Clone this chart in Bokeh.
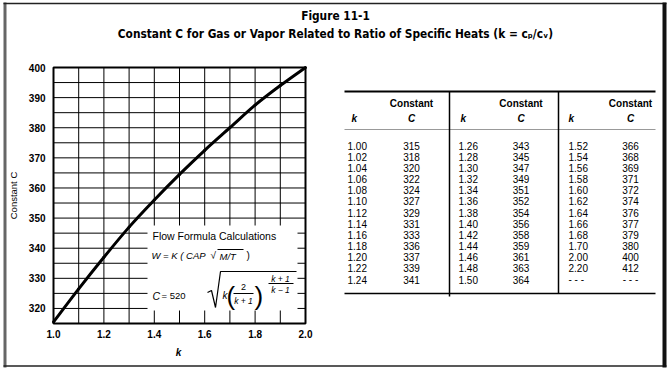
import math
from bokeh.plotting import figure
from bokeh.models import Range1d
from bokeh.core.properties import value
from bokeh.embed import file_html
from bokeh.resources import INLINE

# ---------------- data ----------------
title_line1 = "Figure 11-1"
title_line2 = "Constant C for Gas or Vapor Related to Ratio of Specific Heats (k = c\u209a/c\u1d65)"

k_col1 = ["1.00", "1.02", "1.04", "1.06", "1.08", "1.10", "1.12", "1.14", "1.16", "1.18", "1.20", "1.22", "1.24"]
c_col1 = ["315", "318", "320", "322", "324", "327", "329", "331", "333", "336", "337", "339", "341"]
k_col2 = ["1.26", "1.28", "1.30", "1.32", "1.34", "1.36", "1.38", "1.40", "1.42", "1.44", "1.46", "1.48", "1.50"]
c_col2 = ["343", "345", "347", "349", "351", "352", "354", "356", "358", "359", "361", "363", "364"]
k_col3 = ["1.52", "1.54", "1.56", "1.58", "1.60", "1.62", "1.64", "1.66", "1.68", "1.70", "2.00", "2.20", "- - -"]
c_col3 = ["366", "368", "369", "371", "372", "374", "376", "377", "379", "380", "400", "412", "- - -"]

# curve
curve_k = [1.0, 1.1, 1.2, 1.3, 1.4, 1.5, 1.6, 1.7, 1.8, 1.9, 2.0]
curve_c = [315.5, 326.5, 337, 347, 356, 364.5, 372.5, 380, 387.5, 394, 400]

x_tick_vals = [1.0, 1.2, 1.4, 1.6, 1.8, 2.0]
x_tick_labels = ["1.0", "1.2", "1.4", "1.6", "1.8", "2.0"]
y_tick_vals = [320, 330, 340, 350, 360, 370, 380, 390, 400]
y_tick_labels = ["320", "330", "340", "350", "360", "370", "380", "390", "400"]
x_grid_vals = [1.0, 1.1, 1.2, 1.3, 1.4, 1.5, 1.6, 1.7, 1.8, 1.9, 2.0]
y_grid_vals = [315, 320, 325, 330, 335, 340, 345, 350, 355, 360, 365, 370, 375, 380, 385, 390, 395, 400]
K_MIN, K_MAX, C_MIN, C_MAX = 1.0, 2.0, 315, 400

FONT = "Liberation Sans"
TFONT = "DejaVu Sans Condensed"

# ---------------- geometry (page pixels) ----------------
W, H = 670, 369
CFL, CFR, CFT, CFB = 53, 305, 67, 323     # chart frame on the page


def kx(px):
    return K_MIN + (px - CFL) * (K_MAX - K_MIN) / (CFR - CFL)


def cy(py):
    return C_MIN + (CFB - py) * (C_MAX - C_MIN) / (CFB - CFT)


p = figure(width=W, height=H, output_backend="svg", toolbar_location=None,
           x_range=Range1d(0, W), y_range=Range1d(H, 0), min_border=0)
p.title_location = None
p.xaxis.visible = False
p.yaxis.visible = False
p.xgrid.visible = False
p.ygrid.visible = False
p.outline_line_color = None
p.background_fill_color = "white"
p.border_fill_color = "white"
p.extra_x_ranges = {"k": Range1d(kx(0), kx(W))}
p.extra_y_ranges = {"C": Range1d(cy(H), cy(0))}
KC = dict(x_range_name="k", y_range_name="C")


def txt(xs, ys, texts, size="10px", style="normal", align="left", font=FONT, angle=0, **kw):
    p.text(x=xs, y=ys, text=texts, text_font=value(font), text_font_size=value(size),
           text_font_style=style, text_align=align, text_baseline="middle",
           text_color="black", angle=angle, **kw)


# ---------------- chart ----------------
nx, ny = len(x_grid_vals), len(y_grid_vals)
p.segment(x0=x_grid_vals, y0=[C_MIN] * nx, x1=x_grid_vals, y1=[C_MAX] * nx,
          line_color="black", line_width=1, **KC)
p.segment(x0=[K_MIN] * ny, y0=y_grid_vals, x1=[K_MAX] * ny, y1=y_grid_vals,
          line_color="black", line_width=1, **KC)
# white panel behind the formula
p.quad(left=[147], right=[297], top=[225], bottom=[310], fill_color="white", line_color=None)
# frame
p.quad(left=[K_MIN], right=[K_MAX], bottom=[C_MIN], top=[C_MAX], fill_color=None,
       line_color="black", line_width=2, **KC)

# smooth curve through the read points (Catmull-Rom segments drawn as Bezier curves)
n = len(curve_k)
bx0, by0, bx1, by1, bc0x, bc0y, bc1x, bc1y = [], [], [], [], [], [], [], []
for i in range(n - 1):
    a = max(i - 1, 0)
    d = min(i + 2, n - 1)
    bx0.append(curve_k[i]); by0.append(curve_c[i])
    bx1.append(curve_k[i + 1]); by1.append(curve_c[i + 1])
    bc0x.append(curve_k[i] + (curve_k[i + 1] - curve_k[a]) / 6)
    bc0y.append(curve_c[i] + (curve_c[i + 1] - curve_c[a]) / 6)
    bc1x.append(curve_k[i + 1] - (curve_k[d] - curve_k[i]) / 6)
    bc1y.append(curve_c[i + 1] - (curve_c[d] - curve_c[i]) / 6)
p.bezier(x0=bx0, y0=by0, x1=bx1, y1=by1, cx0=bc0x, cy0=bc0y, cx1=bc1x, cy1=bc1y,
         line_color="black", line_width=3, line_cap="round", **KC)

# tick labels and axis titles
txt(x_tick_vals, [333] * len(x_tick_vals), x_tick_labels, size="10px", style="bold",
    align="center", x_range_name="k")
txt([45] * len(y_tick_vals), y_tick_vals, y_tick_labels, size="10px", style="bold",
    align="right", y_range_name="C")
txt([178], [352], ["k"], size="10px", style="bold italic", align="center")
txt([13], [195], ["Constant C"], size="9.5px", align="center", angle=math.pi / 2)

# formula
txt([152], [235], ["Flow Formula Calculations"], size="10.5px")
txt([151], [255], ["W = K ( CAP"], size="9.5px", style="italic")
txt([210], [255], ["\u221a"], size="10px")
txt([219], [256], ["M/T"], size="9.5px", style="italic")
txt([246], [255], [")"], size="10px")
txt([152], [295], ["C"], size="10.5px", style="italic")
txt([161], [295], ["= 520"], size="9.5px")
txt([222], [295], ["k"], size="10px", style="italic")
txt([226, 254], [295, 295], ["(", ")"], size="26px")
txt([243], [286], ["2"], size="9px", align="center")
txt([243], [300], ["k + 1"], size="8.5px", style="italic", align="center")
txt([280, 280], [278, 289], ["k + 1", "k \u2212 1"], size="8.5px", style="italic", align="center")
p.segment(x0=[217, 233, 268], y0=[249, 293, 283], x1=[243, 253, 293], y1=[249, 293, 283],
          line_color="black", line_width=1)
p.line(x=[207, 211, 215, 220, 296], y=[292, 290, 307, 271, 271], line_color="black",
       line_width=1.2)

# ---------------- title ----------------
txt([335, 335], [15, 33], [title_line1, title_line2], size="11.8px", style="bold",
    align="center", font=TFONT)

# ---------------- outer border ----------------
p.segment(x0=[4.5, 3, 3, 664], y0=[2, 3, 365.5, 2], x1=[4.5, 666, 666, 664], y1=[367, 3, 365.5, 367],
          line_color=["#666666", "#222222", "#222222", "#111111"], line_width=[3, 1.5, 1.5, 4])

# ---------------- table ----------------
k_left = [347, 458, 568]
c_center = [411, 520.5, 630]
k_hdr = [351, 460, 568]
row0, row_step = 145, 11.17

p.segment(x0=[344, 344, 344, 449, 558], y0=[91, 129, 293, 91, 91],
          x1=[655, 655, 655, 449, 558], y1=[91, 129, 293, 296, 293],
          line_color=["black", "#999999", "black", "black", "black"],
          line_width=[2, 1, 1.5, 1.5, 1.5])

txt(c_center, [103] * 3, ["Constant"] * 3, size="10px", style="bold", align="center")
txt(c_center, [118] * 3, ["C"] * 3, size="10px", style="bold italic", align="center")
txt(k_hdr, [118] * 3, ["k"] * 3, size="10px", style="bold italic")

for i, (ks, cs) in enumerate(((k_col1, c_col1), (k_col2, c_col2), (k_col3, c_col3))):
    ys = [row0 + j * row_step for j in range(len(ks))]
    txt([k_left[i]] * len(ks), ys, ks, size="10px")
    txt([c_center[i]] * len(cs), ys, cs, size="10px", align="center")

open("out.html", "w").write(file_html(p, INLINE))
